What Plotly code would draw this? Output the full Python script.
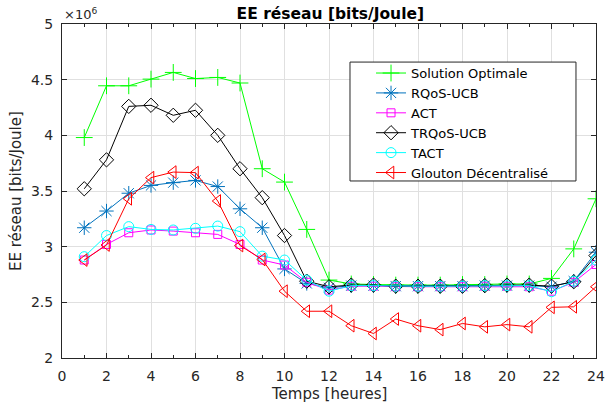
import plotly.graph_objects as go

hours = list(range(1, 25))
optimal = [3.98, 4.445, 4.445, 4.505, 4.565, 4.51, 4.52, 4.47, 3.70, 3.58, 3.155, 2.70,
           2.665, 2.66, 2.655, 2.655, 2.655, 2.66, 2.66, 2.665, 2.665, 2.715, 2.98, 3.43]
rqos = [3.17, 3.32, 3.48, 3.55, 3.575, 3.595, 3.54, 3.34, 3.17, 2.80, 2.67, 2.63,
        2.65, 2.65, 2.645, 2.645, 2.645, 2.645, 2.65, 2.65, 2.65, 2.64, 2.69, 2.95]
act = [2.88, 3.02, 3.125, 3.15, 3.14, 3.125, 3.11, 3.02, 2.88, 2.835, 2.68, 2.61,
       2.645, 2.645, 2.64, 2.64, 2.64, 2.64, 2.645, 2.645, 2.64, 2.60, 2.68, 2.84]
trqos = [3.52, 3.78, 4.26, 4.27, 4.18, 4.225, 4.0, 3.70, 3.44, 3.10, 2.69, 2.64,
         2.655, 2.655, 2.645, 2.645, 2.645, 2.645, 2.65, 2.655, 2.655, 2.645, 2.685, 2.92]
tact = [2.91, 3.10, 3.18, 3.155, 3.15, 3.165, 3.185, 3.135, 2.915, 2.88, 2.70, 2.60,
        2.65, 2.65, 2.645, 2.645, 2.645, 2.645, 2.65, 2.65, 2.65, 2.595, 2.69, 2.88]
glouton = [2.88, 3.015, 3.43, 3.62, 3.67, 3.665, 3.41, 3.01, 2.885, 2.60, 2.42, 2.42,
           2.29, 2.22, 2.35, 2.29, 2.255, 2.31, 2.28, 2.30, 2.28, 2.455, 2.46, 2.64]
x_ticks = list(range(0, 25, 2))
y_ticks = [2, 2.5, 3, 3.5, 4, 4.5, 5]
y_tick_labels = ["2", "2.5", "3", "3.5", "4", "4.5", "5"]

series = [
    ("Solution Optimale", optimal, "#00FF00", "cross-thin-open", 12),
    ("RQoS-UCB", rqos, "#0072BD", "asterisk-open", 12),
    ("ACT", act, "#FF00FF", "square-open", 8),
    ("TRQoS-UCB", trqos, "#000000", "diamond-open", 11),
    ("TACT", tact, "#00FFFF", "circle-open", 10),
    ("Glouton Décentralisé", glouton, "#FF0000", "triangle-left-open", 11),
]

FONT = "DejaVu Sans, Liberation Sans, Arial"
TXT = "#262626"

fig = go.Figure()
for name, vals, color, sym, size in series:
    fig.add_trace(go.Scatter(
        x=hours, y=vals, name=name, mode="lines+markers",
        line=dict(color=color, width=1),
        marker=dict(symbol=sym, size=size, color=color, line=dict(color=color, width=1)),
    ))

axis_common = dict(
    showline=True, linecolor=TXT, linewidth=1, mirror="ticks",
    ticks="inside", ticklen=5, tickcolor=TXT,
    showgrid=True, gridcolor="#E0E0E0", gridwidth=1,
    zeroline=False, automargin=False,
    tickfont=dict(family=FONT, size=14, color=TXT),
)

fig.update_xaxes(range=[0, 24], tickvals=x_ticks, ticklabelstandoff=5,
                 minor=dict(ticks="inside", ticklen=3, tickcolor=TXT, dtick=1, showgrid=False),
                 **axis_common)
fig.update_yaxes(range=[2, 5], tickvals=y_ticks, ticktext=y_tick_labels, ticklabelstandoff=5,
                 **axis_common)

fig.update_layout(
    width=605, height=406,
    margin=dict(l=62, r=9, t=24, b=48),
    plot_bgcolor="white", paper_bgcolor="white",
    title=dict(text="<b>EE réseau [bits/Joule]</b>", x=0.546, xanchor="center", y=0.952, yanchor="bottom",
               font=dict(family=FONT, size=15.5, color="#000000")),
    legend=dict(x=0.5787, y=0.898, xanchor="left", yanchor="top",
                bgcolor="rgba(0,0,0,0)", borderwidth=0,
                font=dict(family=FONT, size=13, color="#000000"),
                tracegroupgap=0, itemsizing="trace"),
    showlegend=True,
)

# legend frame (white box with border) behind the legend entries
fig.add_shape(type="rect", xref="paper", yref="paper", x0=0.5393, x1=0.9625, y0=0.530, y1=0.886,
              layer="above", fillcolor="white", line=dict(color=TXT, width=1))

fig.add_annotation(text="Temps [heures]", xref="paper", yref="paper", x=0.5, y=-0.108,
                   xanchor="center", yanchor="middle", showarrow=False,
                   font=dict(family=FONT, size=15, color=TXT))
fig.add_annotation(text="EE réseau [bits/Joule]", xref="paper", yref="paper", x=-0.086, y=0.5,
                   xanchor="center", yanchor="middle", textangle=-90, showarrow=False,
                   font=dict(family=FONT, size=15, color=TXT))
fig.add_annotation(text="×10<sup>6</sup>", xref="paper", yref="paper", x=0.0, y=1.0,
                   xanchor="left", yanchor="bottom", showarrow=False,
                   font=dict(family=FONT, size=13, color=TXT))

fig.write_html("out.html", config={"displayModeBar": False},
               post_script="document.body.style.margin='0';")
